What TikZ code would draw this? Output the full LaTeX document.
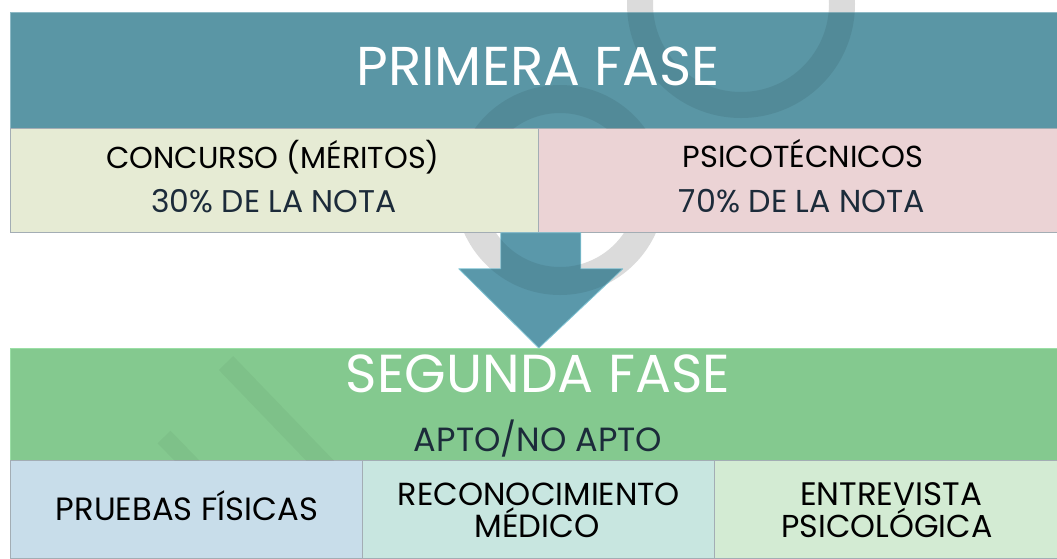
\documentclass[tikz,border=0pt]{standalone}
\usepackage{fontspec}
\setmainfont{Poppins}
\usepackage{graphicx}
\definecolor{tealbox}{HTML}{5A96A5}
\definecolor{tealedge}{HTML}{8DB9C5}
\definecolor{meritbox}{HTML}{E6EBD4}
\definecolor{psicobox}{HTML}{EBD3D5}
\definecolor{greenbox}{HTML}{84C98F}
\definecolor{greenedge}{HTML}{9ADFA5}
\definecolor{blueb}{HTML}{C8DDEA}
\definecolor{aquab}{HTML}{C8E6E0}
\definecolor{mintb}{HTML}{D3EBD3}
\definecolor{subedge}{HTML}{A3ADB4}
\definecolor{navytxt}{HTML}{1C2B3A}
\definecolor{arrowfill}{HTML}{5A98AA}
\definecolor{arrowedge}{HTML}{80C4D4}
\newcommand{\fitw}[2]{\resizebox{#1pt}{!}{#2}}
\newcommand{\wmrings}{(560,190) circle (105pt) (560,190) circle (77pt) (741,4) circle (114pt) (741,4) circle (88pt)}
\begin{document}
\begin{tikzpicture}[x=1pt,y=-1pt,
  panel/.style={rectangle, draw=subedge, line width=0.8pt, anchor=north west, inner sep=0pt},
  label/.style={anchor=base, inner sep=0pt, text=black},
  titletxt/.style={anchor=base, inner sep=0pt, text=white},
  wm/.style={black, even odd rule}]
\useasboundingbox (0,0) rectangle (1057,558);
\fill[white] (0,0) rectangle (1057,558);

% watermark on the white page
\fill[wm, opacity=0.14] (560,190) circle (105pt) (560,190) circle (77pt);
\fill[wm, opacity=0.14] (741,4) circle (114pt) (741,4) circle (88pt);

% primera fase
\node[panel, fill=tealbox, draw=tealedge, minimum width=1047pt, minimum height=116pt] (f1) at (10,12) {};
\node[panel, fill=meritbox, minimum width=528pt, minimum height=104pt] (merit) at (10,128) {};
\node[panel, fill=psicobox, minimum width=519pt, minimum height=104pt] (psico) at (538,128) {};

% segunda fase
\node[panel, fill=greenbox, draw=greenedge, minimum width=1047pt, minimum height=112pt] (f2) at (10,348) {};
\node[panel, fill=blueb, minimum width=352pt, minimum height=98pt] (pf) at (10,460) {};
\node[panel, fill=aquab, minimum width=352pt, minimum height=98pt] (rm) at (362,460) {};
\node[panel, fill=mintb, minimum width=343pt, minimum height=98pt] (ep) at (714,460) {};

% block arrow from primera fase to segunda fase
\coordinate (atop) at (merit.south east);
\coordinate (atip) at (f2.north -| atop);
\fill[arrowfill, draw=arrowedge, line width=0.8pt, line join=round]
  ([xshift=-38pt]atop) -- ([xshift=42pt]atop) -- ([xshift=42pt,yshift=-36pt]atop)
  -- ([xshift=84pt,yshift=-36pt]atop) -- (atip) -- ([xshift=-80pt,yshift=-36pt]atop)
  -- ([xshift=-38pt,yshift=-36pt]atop) -- cycle;

% watermark seen through the teal box and the arrow
\begin{scope}
  \clip (f1.north west) rectangle (f1.south east)
        ([xshift=-38pt]atop) -- ([xshift=42pt]atop) -- ([xshift=42pt,yshift=-36pt]atop)
        -- ([xshift=84pt,yshift=-36pt]atop) -- (atip) -- ([xshift=-80pt,yshift=-36pt]atop)
        -- ([xshift=-38pt,yshift=-36pt]atop) -- cycle;
  \fill[wm, opacity=0.08] (560,190) circle (105pt) (560,190) circle (77pt);
  \fill[wm, opacity=0.08] (741,4) circle (114pt) (741,4) circle (88pt);
\end{scope}
\begin{scope}
  \clip (10,348) rectangle (1057,460);
  \draw[black, opacity=0.04, line width=20pt] (226,363) -- (330,471);
  \draw[black, opacity=0.04, line width=18pt] (164,437) -- (200,474);
\end{scope}

% texts
\node[titletxt] (t1) at (538,85) {\fitw{363}{PRIMERA FASE}};
\node[label] (m1) at (273,168) {\fitw{333}{CONCURSO (MÉRITOS)}};
\node[label, text=navytxt] (m2) at (274,212) {\fitw{245}{30\% DE LA NOTA}};
\node[label] (p1) at (803,167) {\fitw{240}{PSICOTÉCNICOS}};
\node[label, text=navytxt] (p2) at (802,212) {\fitw{246}{70\% DE LA NOTA}};
\node[titletxt] (t2) at (538,392) {\fitw{384}{SEGUNDA FASE}};
\node[label, text=navytxt] (apto) at (538,451) {\fitw{248}{APTO/NO APTO}};
\node[label] (pft) at (187,520) {\fitw{262}{PRUEBAS FÍSICAS}};
\node[label] (rm1) at (539,505) {\fitw{282}{RECONOCIMIENTO}};
\node[label] (rm2) at (537,537) {\fitw{125}{MÉDICO}};
\node[label] (ep1) at (891,505) {\fitw{182}{ENTREVISTA}};
\node[label] (ep2) at (887,537) {\fitw{211}{PSICOLÓGICA}};
\end{tikzpicture}
\end{document}
